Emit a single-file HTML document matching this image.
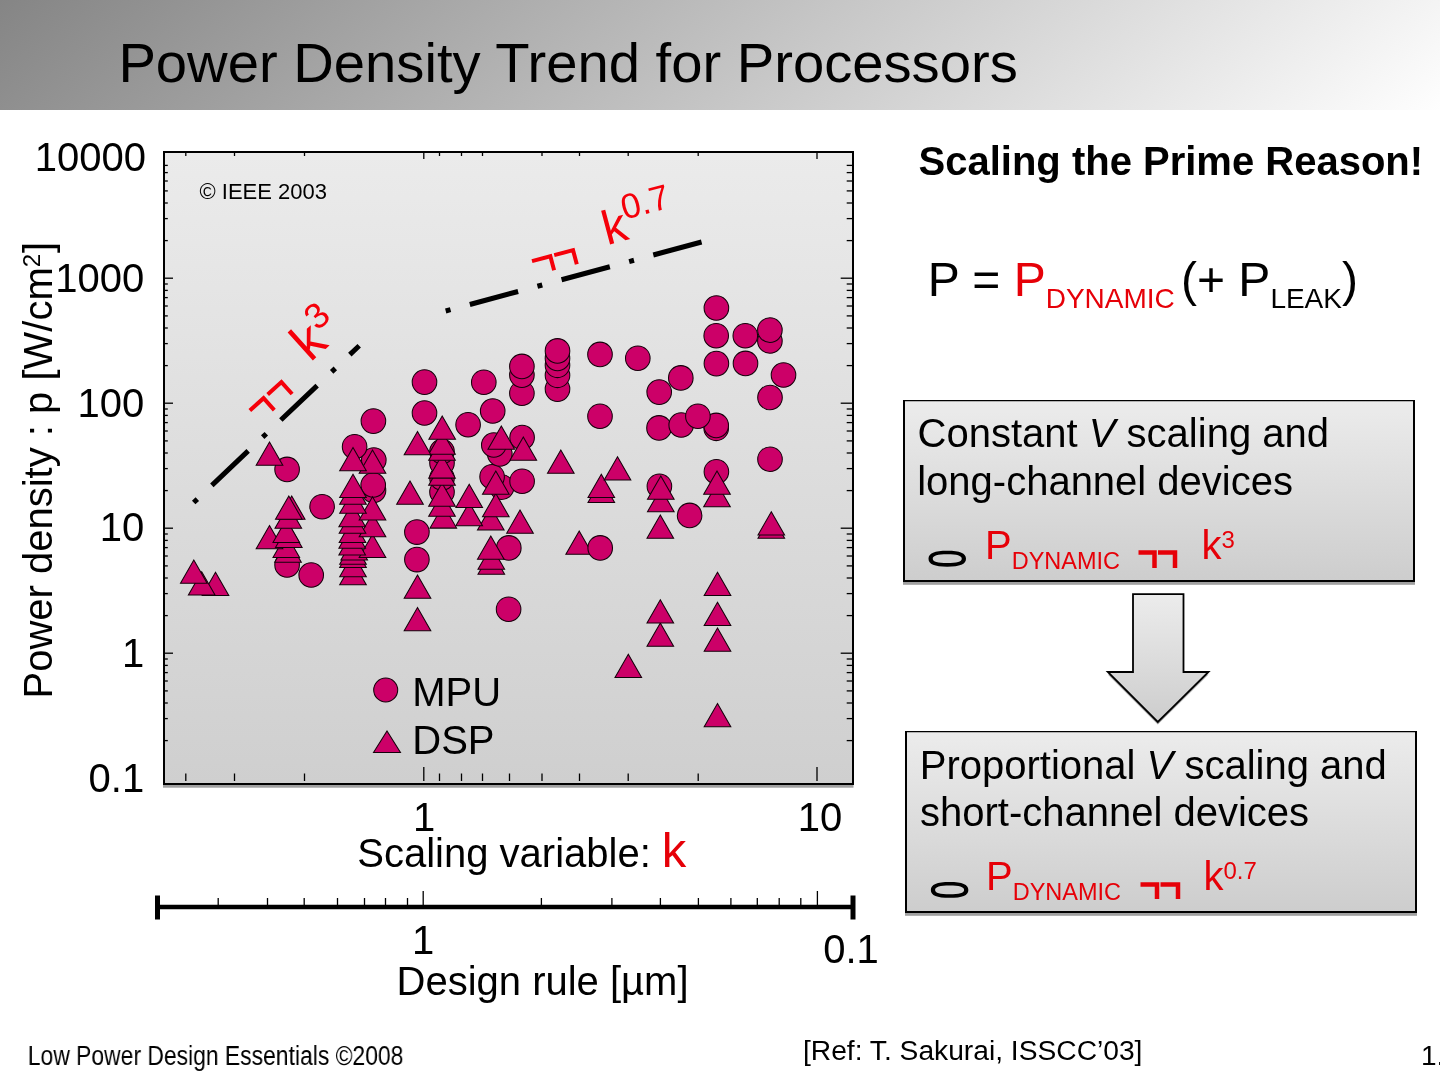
<!DOCTYPE html>
<html><head><meta charset="utf-8">
<style>
html,body{margin:0;padding:0;background:#fff;}
body{width:1440px;height:1080px;overflow:hidden;position:relative;}
svg{position:absolute;left:0;top:0;will-change:transform;}
text{font-family:"Liberation Sans",sans-serif;}
</style></head><body>
<svg width="1440" height="1080" viewBox="0 0 1440 1080">
<defs>
<linearGradient id="hdr" gradientUnits="userSpaceOnUse" x1="0" y1="0" x2="656.6" y2="774">
<stop offset="0" stop-color="#858585"/><stop offset="1" stop-color="#fefefe"/>
</linearGradient>
<linearGradient id="plotg" x1="0" y1="0" x2="0" y2="1">
<stop offset="0" stop-color="#ebebeb"/><stop offset="1" stop-color="#cfcfcf"/>
</linearGradient>
<linearGradient id="boxg" x1="0" y1="0" x2="0" y2="1">
<stop offset="0" stop-color="#ececec"/><stop offset="1" stop-color="#cdcdcd"/>
</linearGradient>
</defs>

<!-- header -->
<rect x="0" y="0" width="1440" height="110" fill="url(#hdr)"/>
<text x="118.4" y="81.8" font-size="56.2">Power Density Trend for Processors</text>

<!-- plot area -->
<rect x="163" y="784.5" width="690.5" height="3.2" fill="#a0a0a0"/>
<rect x="164" y="152" width="689" height="632" fill="url(#plotg)" stroke="#000" stroke-width="2"/>
<g id="ticks" stroke="#000" stroke-width="1.3">
<line x1="185.8" y1="773.5" x2="185.8" y2="781"/>
<line x1="185.8" y1="152" x2="185.8" y2="156"/>
<line x1="234.5" y1="773.5" x2="234.5" y2="781"/>
<line x1="234.5" y1="152" x2="234.5" y2="156"/>
<line x1="304.5" y1="773.5" x2="304.5" y2="781"/>
<line x1="304.5" y1="152" x2="304.5" y2="156"/>
<line x1="439.5" y1="773.5" x2="439.5" y2="781"/>
<line x1="439.5" y1="152" x2="439.5" y2="156"/>
<line x1="461.5" y1="773.5" x2="461.5" y2="781"/>
<line x1="461.5" y1="152" x2="461.5" y2="156"/>
<line x1="482.5" y1="773.5" x2="482.5" y2="781"/>
<line x1="482.5" y1="152" x2="482.5" y2="156"/>
<line x1="509.5" y1="773.5" x2="509.5" y2="781"/>
<line x1="542.0" y1="773.5" x2="542.0" y2="781"/>
<line x1="542.0" y1="152" x2="542.0" y2="156"/>
<line x1="579.5" y1="773.5" x2="579.5" y2="781"/>
<line x1="579.5" y1="152" x2="579.5" y2="156"/>
<line x1="628.2" y1="773.5" x2="628.2" y2="781"/>
<line x1="628.2" y1="152" x2="628.2" y2="156"/>
<line x1="698.2" y1="773.5" x2="698.2" y2="781"/>
<line x1="698.2" y1="152" x2="698.2" y2="156"/>
<line x1="423.8" y1="767" x2="423.8" y2="781"/>
<line x1="423.8" y1="152" x2="423.8" y2="159"/>
<line x1="817.0" y1="767" x2="817.0" y2="781"/>
<line x1="817.0" y1="152" x2="817.0" y2="159"/>
<line x1="164" y1="740.6" x2="167.8" y2="740.6"/>
<line x1="846.7" y1="740.6" x2="852.7" y2="740.6"/>
<line x1="164" y1="718.6" x2="167.8" y2="718.6"/>
<line x1="846.7" y1="718.6" x2="852.7" y2="718.6"/>
<line x1="164" y1="703.0" x2="167.8" y2="703.0"/>
<line x1="846.7" y1="703.0" x2="852.7" y2="703.0"/>
<line x1="164" y1="690.9" x2="167.8" y2="690.9"/>
<line x1="846.7" y1="690.9" x2="852.7" y2="690.9"/>
<line x1="164" y1="681.0" x2="167.8" y2="681.0"/>
<line x1="846.7" y1="681.0" x2="852.7" y2="681.0"/>
<line x1="164" y1="672.6" x2="167.8" y2="672.6"/>
<line x1="846.7" y1="672.6" x2="852.7" y2="672.6"/>
<line x1="164" y1="665.4" x2="167.8" y2="665.4"/>
<line x1="846.7" y1="665.4" x2="852.7" y2="665.4"/>
<line x1="164" y1="659.0" x2="167.8" y2="659.0"/>
<line x1="846.7" y1="659.0" x2="852.7" y2="659.0"/>
<line x1="164" y1="653.2" x2="173" y2="653.2"/>
<line x1="840.7" y1="653.2" x2="852.7" y2="653.2"/>
<line x1="164" y1="615.6" x2="167.8" y2="615.6"/>
<line x1="846.7" y1="615.6" x2="852.7" y2="615.6"/>
<line x1="164" y1="593.6" x2="167.8" y2="593.6"/>
<line x1="846.7" y1="593.6" x2="852.7" y2="593.6"/>
<line x1="164" y1="578.0" x2="167.8" y2="578.0"/>
<line x1="846.7" y1="578.0" x2="852.7" y2="578.0"/>
<line x1="164" y1="565.9" x2="167.8" y2="565.9"/>
<line x1="846.7" y1="565.9" x2="852.7" y2="565.9"/>
<line x1="164" y1="556.0" x2="167.8" y2="556.0"/>
<line x1="846.7" y1="556.0" x2="852.7" y2="556.0"/>
<line x1="164" y1="547.6" x2="167.8" y2="547.6"/>
<line x1="846.7" y1="547.6" x2="852.7" y2="547.6"/>
<line x1="164" y1="540.4" x2="167.8" y2="540.4"/>
<line x1="846.7" y1="540.4" x2="852.7" y2="540.4"/>
<line x1="164" y1="534.0" x2="167.8" y2="534.0"/>
<line x1="846.7" y1="534.0" x2="852.7" y2="534.0"/>
<line x1="164" y1="528.2" x2="173" y2="528.2"/>
<line x1="840.7" y1="528.2" x2="852.7" y2="528.2"/>
<line x1="164" y1="490.6" x2="167.8" y2="490.6"/>
<line x1="846.7" y1="490.6" x2="852.7" y2="490.6"/>
<line x1="164" y1="468.6" x2="167.8" y2="468.6"/>
<line x1="846.7" y1="468.6" x2="852.7" y2="468.6"/>
<line x1="164" y1="453.0" x2="167.8" y2="453.0"/>
<line x1="846.7" y1="453.0" x2="852.7" y2="453.0"/>
<line x1="164" y1="440.9" x2="167.8" y2="440.9"/>
<line x1="846.7" y1="440.9" x2="852.7" y2="440.9"/>
<line x1="164" y1="431.0" x2="167.8" y2="431.0"/>
<line x1="846.7" y1="431.0" x2="852.7" y2="431.0"/>
<line x1="164" y1="422.6" x2="167.8" y2="422.6"/>
<line x1="846.7" y1="422.6" x2="852.7" y2="422.6"/>
<line x1="164" y1="415.4" x2="167.8" y2="415.4"/>
<line x1="846.7" y1="415.4" x2="852.7" y2="415.4"/>
<line x1="164" y1="409.0" x2="167.8" y2="409.0"/>
<line x1="846.7" y1="409.0" x2="852.7" y2="409.0"/>
<line x1="164" y1="403.2" x2="173" y2="403.2"/>
<line x1="840.7" y1="403.2" x2="852.7" y2="403.2"/>
<line x1="164" y1="365.6" x2="167.8" y2="365.6"/>
<line x1="846.7" y1="365.6" x2="852.7" y2="365.6"/>
<line x1="164" y1="343.6" x2="167.8" y2="343.6"/>
<line x1="846.7" y1="343.6" x2="852.7" y2="343.6"/>
<line x1="164" y1="328.0" x2="167.8" y2="328.0"/>
<line x1="846.7" y1="328.0" x2="852.7" y2="328.0"/>
<line x1="164" y1="315.9" x2="167.8" y2="315.9"/>
<line x1="846.7" y1="315.9" x2="852.7" y2="315.9"/>
<line x1="164" y1="306.0" x2="167.8" y2="306.0"/>
<line x1="846.7" y1="306.0" x2="852.7" y2="306.0"/>
<line x1="164" y1="297.6" x2="167.8" y2="297.6"/>
<line x1="846.7" y1="297.6" x2="852.7" y2="297.6"/>
<line x1="164" y1="290.4" x2="167.8" y2="290.4"/>
<line x1="846.7" y1="290.4" x2="852.7" y2="290.4"/>
<line x1="164" y1="284.0" x2="167.8" y2="284.0"/>
<line x1="846.7" y1="284.0" x2="852.7" y2="284.0"/>
<line x1="164" y1="278.2" x2="173" y2="278.2"/>
<line x1="840.7" y1="278.2" x2="852.7" y2="278.2"/>
<line x1="164" y1="240.6" x2="167.8" y2="240.6"/>
<line x1="846.7" y1="240.6" x2="852.7" y2="240.6"/>
<line x1="164" y1="218.6" x2="167.8" y2="218.6"/>
<line x1="846.7" y1="218.6" x2="852.7" y2="218.6"/>
<line x1="164" y1="203.0" x2="167.8" y2="203.0"/>
<line x1="846.7" y1="203.0" x2="852.7" y2="203.0"/>
<line x1="164" y1="190.9" x2="167.8" y2="190.9"/>
<line x1="846.7" y1="190.9" x2="852.7" y2="190.9"/>
<line x1="164" y1="181.0" x2="167.8" y2="181.0"/>
<line x1="846.7" y1="181.0" x2="852.7" y2="181.0"/>
<line x1="164" y1="172.6" x2="167.8" y2="172.6"/>
<line x1="846.7" y1="172.6" x2="852.7" y2="172.6"/>
<line x1="164" y1="165.4" x2="167.8" y2="165.4"/>
<line x1="846.7" y1="165.4" x2="852.7" y2="165.4"/>
</g>

<!-- markers -->
<g id="markers" fill="#cc0068" stroke="#14000a" stroke-width="1.05">
<circle cx="508.6" cy="609.2" r="12.3"/>
<circle cx="311.2" cy="575.0" r="12.3"/>
<circle cx="287.1" cy="565.0" r="12.3"/>
<circle cx="416.9" cy="559.6" r="12.3"/>
<circle cx="508.8" cy="547.9" r="12.3"/>
<circle cx="416.9" cy="532.1" r="12.3"/>
<circle cx="689.6" cy="515.4" r="12.3"/>
<circle cx="322.1" cy="506.7" r="12.3"/>
<circle cx="442.0" cy="492.0" r="12.3"/>
<circle cx="373.5" cy="490.4" r="12.3"/>
<circle cx="501.7" cy="487.1" r="12.3"/>
<circle cx="659.4" cy="486.2" r="12.3"/>
<circle cx="373.2" cy="485.0" r="12.3"/>
<circle cx="522.1" cy="481.2" r="12.3"/>
<circle cx="442.0" cy="478.0" r="12.3"/>
<circle cx="492.1" cy="476.7" r="12.3"/>
<circle cx="716.4" cy="471.7" r="12.3"/>
<circle cx="287.1" cy="469.4" r="12.3"/>
<circle cx="442.0" cy="463.0" r="12.3"/>
<circle cx="373.8" cy="460.0" r="12.3"/>
<circle cx="770.0" cy="459.2" r="12.3"/>
<circle cx="499.8" cy="454.0" r="12.3"/>
<circle cx="442.0" cy="451.5" r="12.3"/>
<circle cx="354.6" cy="446.7" r="12.3"/>
<circle cx="493.8" cy="445.0" r="12.3"/>
<circle cx="522.1" cy="437.5" r="12.3"/>
<circle cx="716.2" cy="428.3" r="12.3"/>
<circle cx="659.0" cy="427.9" r="12.3"/>
<circle cx="716.2" cy="425.4" r="12.3"/>
<circle cx="681.2" cy="425.0" r="12.3"/>
<circle cx="468.1" cy="424.7" r="12.3"/>
<circle cx="373.4" cy="421.1" r="12.3"/>
<circle cx="600.0" cy="416.2" r="12.3"/>
<circle cx="697.9" cy="416.2" r="12.3"/>
<circle cx="424.5" cy="413.0" r="12.3"/>
<circle cx="492.7" cy="411.0" r="12.3"/>
<circle cx="770.0" cy="397.5" r="12.3"/>
<circle cx="521.9" cy="393.2" r="12.3"/>
<circle cx="659.2" cy="392.1" r="12.3"/>
<circle cx="557.5" cy="389.1" r="12.3"/>
<circle cx="483.8" cy="382.2" r="12.3"/>
<circle cx="424.5" cy="382.1" r="12.3"/>
<circle cx="680.8" cy="377.9" r="12.3"/>
<circle cx="557.5" cy="375.3" r="12.3"/>
<circle cx="521.9" cy="375.1" r="12.3"/>
<circle cx="783.5" cy="375.0" r="12.3"/>
<circle cx="521.9" cy="366.4" r="12.3"/>
<circle cx="557.5" cy="365.3" r="12.3"/>
<circle cx="716.4" cy="363.6" r="12.3"/>
<circle cx="745.5" cy="363.4" r="12.3"/>
<circle cx="557.5" cy="358.4" r="12.3"/>
<circle cx="637.8" cy="358.2" r="12.3"/>
<circle cx="600.0" cy="354.4" r="12.3"/>
<circle cx="557.5" cy="350.9" r="12.3"/>
<circle cx="769.9" cy="341.0" r="12.3"/>
<circle cx="716.2" cy="335.7" r="12.3"/>
<circle cx="745.3" cy="335.7" r="12.3"/>
<circle cx="769.9" cy="330.1" r="12.3"/>
<circle cx="716.4" cy="308.0" r="12.3"/>
<path d="M717.5 703.5L730.8 726.7H704.2Z"/>
<path d="M628.3 654.3L641.6 677.5H615.0Z"/>
<path d="M717.5 628.1L730.8 651.3H704.2Z"/>
<path d="M660.3 623.1L673.6 646.3H647.0Z"/>
<path d="M417.5 607.6L430.8 630.8H404.2Z"/>
<path d="M717.5 602.3L730.8 625.5H704.2Z"/>
<path d="M660.3 599.8L673.6 623.0H647.0Z"/>
<path d="M417.5 575.1L430.8 598.3H404.2Z"/>
<path d="M717.5 572.3L730.8 595.5H704.2Z"/>
<path d="M215.5 572.3L228.8 595.5H202.2Z"/>
<path d="M201.7 571.8L215.0 595.0H188.4Z"/>
<path d="M353.0 561.5L366.3 584.7H339.7Z"/>
<path d="M193.8 560.1L207.1 583.3H180.5Z"/>
<path d="M353.0 553.5L366.3 576.7H339.7Z"/>
<path d="M491.3 551.0L504.6 574.2H478.0Z"/>
<path d="M491.3 546.0L504.6 569.2H478.0Z"/>
<path d="M353.0 544.3L366.3 567.5H339.7Z"/>
<path d="M353.0 541.0L366.3 564.2H339.7Z"/>
<path d="M288.0 539.0L301.3 562.2H274.7Z"/>
<path d="M354.2 536.8L367.5 560.0H340.9Z"/>
<path d="M490.8 536.0L504.1 559.2H477.5Z"/>
<path d="M372.5 534.3L385.8 557.5H359.2Z"/>
<path d="M286.3 534.3L299.6 557.5H273.0Z"/>
<path d="M352.2 531.8L365.5 555.0H338.9Z"/>
<path d="M579.2 531.0L592.5 554.2H565.9Z"/>
<path d="M352.2 525.1L365.5 548.3H338.9Z"/>
<path d="M269.5 525.5L282.8 548.7H256.2Z"/>
<path d="M288.8 524.3L302.1 547.5H275.5Z"/>
<path d="M352.5 519.3L365.8 542.5H339.2Z"/>
<path d="M286.3 519.3L299.6 542.5H273.0Z"/>
<path d="M771.3 515.1L784.6 538.3H758.0Z"/>
<path d="M660.3 515.1L673.6 538.3H647.0Z"/>
<path d="M372.5 513.5L385.8 536.7H359.2Z"/>
<path d="M771.3 511.8L784.6 535.0H758.0Z"/>
<path d="M520.0 510.1L533.3 533.3H506.7Z"/>
<path d="M352.5 510.1L365.8 533.3H339.2Z"/>
<path d="M490.8 506.8L504.1 530.0H477.5Z"/>
<path d="M443.3 504.9L456.6 528.1H430.0Z"/>
<path d="M288.3 505.1L301.6 528.3H275.0Z"/>
<path d="M469.2 502.6L482.5 525.8H455.9Z"/>
<path d="M352.2 503.5L365.5 526.7H338.9Z"/>
<path d="M372.5 496.8L385.8 520.0H359.2Z"/>
<path d="M291.7 496.0L305.0 519.2H278.4Z"/>
<path d="M288.8 496.0L302.1 519.2H275.5Z"/>
<path d="M495.8 493.5L509.1 516.7H482.5Z"/>
<path d="M442.0 493.1L455.3 516.3H428.7Z"/>
<path d="M353.0 490.1L366.3 513.3H339.7Z"/>
<path d="M660.8 488.5L674.1 511.7H647.5Z"/>
<path d="M469.2 484.3L482.5 507.5H455.9Z"/>
<path d="M717.0 483.5L730.3 506.7H703.7Z"/>
<path d="M442.0 483.1L455.3 506.3H428.7Z"/>
<path d="M410.0 481.0L423.3 504.2H396.7Z"/>
<path d="M353.0 481.0L366.3 504.2H339.7Z"/>
<path d="M601.3 479.3L614.6 502.5H588.0Z"/>
<path d="M660.8 476.0L674.1 499.2H647.5Z"/>
<path d="M601.3 474.3L614.6 497.5H588.0Z"/>
<path d="M353.0 474.3L366.3 497.5H339.7Z"/>
<path d="M717.0 471.0L730.3 494.2H703.7Z"/>
<path d="M495.8 471.0L509.1 494.2H482.5Z"/>
<path d="M442.0 462.0L455.3 485.2H428.7Z"/>
<path d="M617.5 456.8L630.8 480.0H604.2Z"/>
<path d="M442.0 454.9L455.3 478.1H428.7Z"/>
<path d="M560.8 450.1L574.1 473.3H547.5Z"/>
<path d="M372.5 450.1L385.8 473.3H359.2Z"/>
<path d="M353.0 447.6L366.3 470.8H339.7Z"/>
<path d="M269.5 442.1L282.8 465.3H256.2Z"/>
<path d="M523.3 437.1L536.6 460.3H510.0Z"/>
<path d="M442.0 437.1L455.3 460.3H428.7Z"/>
<path d="M442.0 431.0L455.3 454.2H428.7Z"/>
<path d="M417.5 431.5L430.8 454.7H404.2Z"/>
<path d="M501.3 426.0L514.6 449.2H488.0Z"/>
<path d="M442.2 416.0L455.5 439.2H428.9Z"/>
<circle cx="600.2" cy="547.9" r="12.3"/>
</g>

<!-- dash lines -->
<line x1="193.7" y1="502.5" x2="359.2" y2="345.8" stroke="#000" stroke-width="5" stroke-dasharray="5 20 50 20"/>
<line x1="445.7" y1="311" x2="703.5" y2="241.5" stroke="#000" stroke-width="5" stroke-dasharray="5 20 50 20"/>

<text x="199.5" y="199" font-size="22">© IEEE 2003</text>
<g transform="translate(313,360.4) rotate(-42)" fill="#f5000a">
<path d="M-80.5 -5 H-62 V11 M-56.5 -5 H-38 V11" fill="none" stroke="#f5000a" stroke-width="4"/>
<text x="-3.6" y="0" font-size="52">k</text>
<text x="22.7" y="-18.3" font-size="36">3</text>
</g>
<g transform="translate(610.3,244.3) rotate(-15)" fill="#f5000a">
<path d="M-80 -4 H-61 V10.5 M-57 -4 H-37.5 V10.5" fill="none" stroke="#f5000a" stroke-width="4"/>
<text x="-3.4" y="0" font-size="48">k</text>
<text x="20" y="-20" font-size="35">0.7</text>
</g>

<!-- y labels -->
<g font-size="40" text-anchor="end">
<text x="146" y="171">10000</text>
<text x="144.2" y="291.5">1000</text>
<text x="144.2" y="416.5">100</text>
<text x="144.2" y="541.3">10</text>
<text x="144.2" y="666.5">1</text>
<text x="144.2" y="791.7">0.1</text>
</g>
<text transform="translate(52.3,698.5) rotate(-90)" font-size="40">Power density : p [W/cm<tspan font-size="24" dy="-12">2</tspan><tspan dy="12" dx="1">]</tspan></text>

<!-- legend -->
<circle cx="385.7" cy="690" r="12" fill="#cc0068" stroke="#14000a" stroke-width="1.05"/>
<path d="M373.5 752.5 L387 731 L400.5 752.5 Z" fill="#cc0068" stroke="#14000a" stroke-width="1.05"/>
<text x="412.3" y="706" font-size="40">MPU</text>
<text x="412.3" y="754" font-size="40">DSP</text>

<!-- x labels -->
<g font-size="40" text-anchor="middle">
<text x="424" y="831">1</text>
<text x="820" y="831">10</text>
</g>
<text x="357.3" y="867" font-size="40">Scaling variable:</text>
<text x="661.8" y="866.5" font-size="49" fill="#e60008">k</text>

<!-- design rule axis -->
<g id="drax" stroke="#000">
<line x1="157" y1="907" x2="853" y2="907" stroke-width="4.5"/>
<line x1="157.5" y1="895.5" x2="157.5" y2="919.5" stroke-width="5"/>
<line x1="853" y1="895.5" x2="853" y2="919.5" stroke-width="5"/>
<line x1="218.2" y1="898" x2="218.2" y2="906" stroke-width="1.3"/>
<line x1="267.5" y1="898" x2="267.5" y2="906" stroke-width="1.3"/>
<line x1="304.2" y1="898" x2="304.2" y2="906" stroke-width="1.3"/>
<line x1="337.5" y1="898" x2="337.5" y2="906" stroke-width="1.3"/>
<line x1="364.5" y1="898" x2="364.5" y2="906" stroke-width="1.3"/>
<line x1="385.5" y1="898" x2="385.5" y2="906" stroke-width="1.3"/>
<line x1="407.5" y1="898" x2="407.5" y2="906" stroke-width="1.3"/>
<line x1="541.4" y1="898" x2="541.4" y2="906" stroke-width="1.3"/>
<line x1="611.9" y1="898" x2="611.9" y2="906" stroke-width="1.3"/>
<line x1="660.4" y1="898" x2="660.4" y2="906" stroke-width="1.3"/>
<line x1="698.4" y1="898" x2="698.4" y2="906" stroke-width="1.3"/>
<line x1="730.9" y1="898" x2="730.9" y2="906" stroke-width="1.3"/>
<line x1="757.3" y1="898" x2="757.3" y2="906" stroke-width="1.3"/>
<line x1="779.2" y1="898" x2="779.2" y2="906" stroke-width="1.3"/>
<line x1="800.8" y1="898" x2="800.8" y2="906" stroke-width="1.3"/>
<line x1="423.2" y1="891" x2="423.2" y2="906" stroke-width="1.3"/>
<line x1="817.4" y1="891" x2="817.4" y2="906" stroke-width="1.3"/>
</g>
<g font-size="40" text-anchor="middle">
<text x="423" y="954">1</text>
<text x="851" y="963">0.1</text>
</g>
<text x="396.5" y="995" font-size="40">Design rule [µm]</text>

<!-- right side -->
<text x="918.5" y="175" font-size="40" font-weight="bold">Scaling the Prime Reason!</text>
<text x="927.8" y="296" font-size="48">P = <tspan fill="#e60008">P</tspan><tspan fill="#e60008" font-size="28" dy="12">DYNAMIC</tspan><tspan dy="-12"> </tspan></text>
<text x="1181" y="296" font-size="48">(+ P<tspan font-size="28" dy="12">LEAK</tspan><tspan dy="-12">)</tspan></text>

<!-- box 1 -->
<rect x="903" y="582" width="512" height="2.8" fill="#a0a0a0"/>
<rect x="903" y="400" width="512" height="182" fill="url(#boxg)"/>
<path d="M903 400.65 H1415" stroke="#000" stroke-width="1.3"/>
<path d="M904 400 V582 M1414 400 V582 M903 581 H1415" stroke="#000" stroke-width="2"/>
<text x="917.6" y="446.8" font-size="40">Constant <tspan font-style="italic">V</tspan> scaling and</text>
<text x="917.2" y="495" font-size="40">long-channel devices</text>
<path fill="#000" fill-rule="evenodd" d="M928.50 558.70 C928.50 553.29 934.50 550.75 947.25 550.75 C960.00 550.75 966.00 553.29 966.00 558.70 C966.00 564.11 960.00 566.65 947.25 566.65 C934.50 566.65 928.50 564.11 928.50 558.70 Z M932.75 558.70 C932.75 555.83 937.68 554.35 947.25 554.35 C956.82 554.35 961.75 555.83 961.75 558.70 C961.75 561.57 956.82 563.05 947.25 563.05 C937.68 563.05 932.75 561.57 932.75 558.70 Z "/>
<text x="985" y="559" font-size="40" fill="#e60008">P<tspan font-size="23.5" dy="10">DYNAMIC</tspan></text>
<path d="M1138.5 552.5 H1154.5 V568 M1158 552.5 H1175 V568" fill="none" stroke="#e60008" stroke-width="4.5"/>
<text x="1201.5" y="559" font-size="40" fill="#e60008">k<tspan font-size="24" dy="-11">3</tspan></text>

<!-- arrow -->
<path d="M1133 596.7 H1183.5 V674.5 H1208.5 L1157.8 724.5 L1107.8 674.5 H1133 Z" fill="#a0a0a0"/>
<path d="M1133 594.2 H1183.5 V672 H1208.5 L1157.8 722 L1107.8 672 H1133 Z" fill="url(#boxg)" stroke="#000" stroke-width="1.8"/>

<!-- box 2 -->
<rect x="905" y="913" width="512" height="2.8" fill="#a0a0a0"/>
<rect x="905" y="731" width="512" height="182" fill="url(#boxg)"/>
<path d="M905 731.65 H1417" stroke="#000" stroke-width="1.3"/>
<path d="M906 731 V913 M1416 731 V913 M905 912 H1417" stroke="#000" stroke-width="2"/>
<text x="919.8" y="778.5" font-size="40">Proportional <tspan font-style="italic">V</tspan> scaling and</text>
<text x="920" y="825.5" font-size="40">short-channel devices</text>
<path fill="#000" fill-rule="evenodd" d="M930.85 889.90 C930.85 884.49 936.85 881.95 949.60 881.95 C962.35 881.95 968.35 884.49 968.35 889.90 C968.35 895.31 962.35 897.85 949.60 897.85 C936.85 897.85 930.85 895.31 930.85 889.90 Z M935.10 889.90 C935.10 887.03 940.03 885.55 949.60 885.55 C959.17 885.55 964.10 887.03 964.10 889.90 C964.10 892.77 959.17 894.25 949.60 894.25 C940.03 894.25 935.10 892.77 935.10 889.90 Z "/>
<text x="986" y="890" font-size="40" fill="#e60008">P<tspan font-size="23.5" dy="10">DYNAMIC</tspan></text>
<path d="M1140.5 884.5 H1157 V899 M1160.5 884.5 H1178 V899" fill="none" stroke="#e60008" stroke-width="4.5"/>
<text x="1203.5" y="890" font-size="40" fill="#e60008">k<tspan font-size="24" dy="-11">0.7</tspan></text>

<!-- footer -->
<text transform="translate(27.8,1065) scale(0.8176,1)" font-size="28">Low Power Design Essentials ©2008</text>
<text x="803" y="1060" font-size="28.2">[Ref: T. Sakurai, ISSCC’03]</text>
<text x="1421" y="1065" font-size="28">1.</text>
</svg>
</body></html>
